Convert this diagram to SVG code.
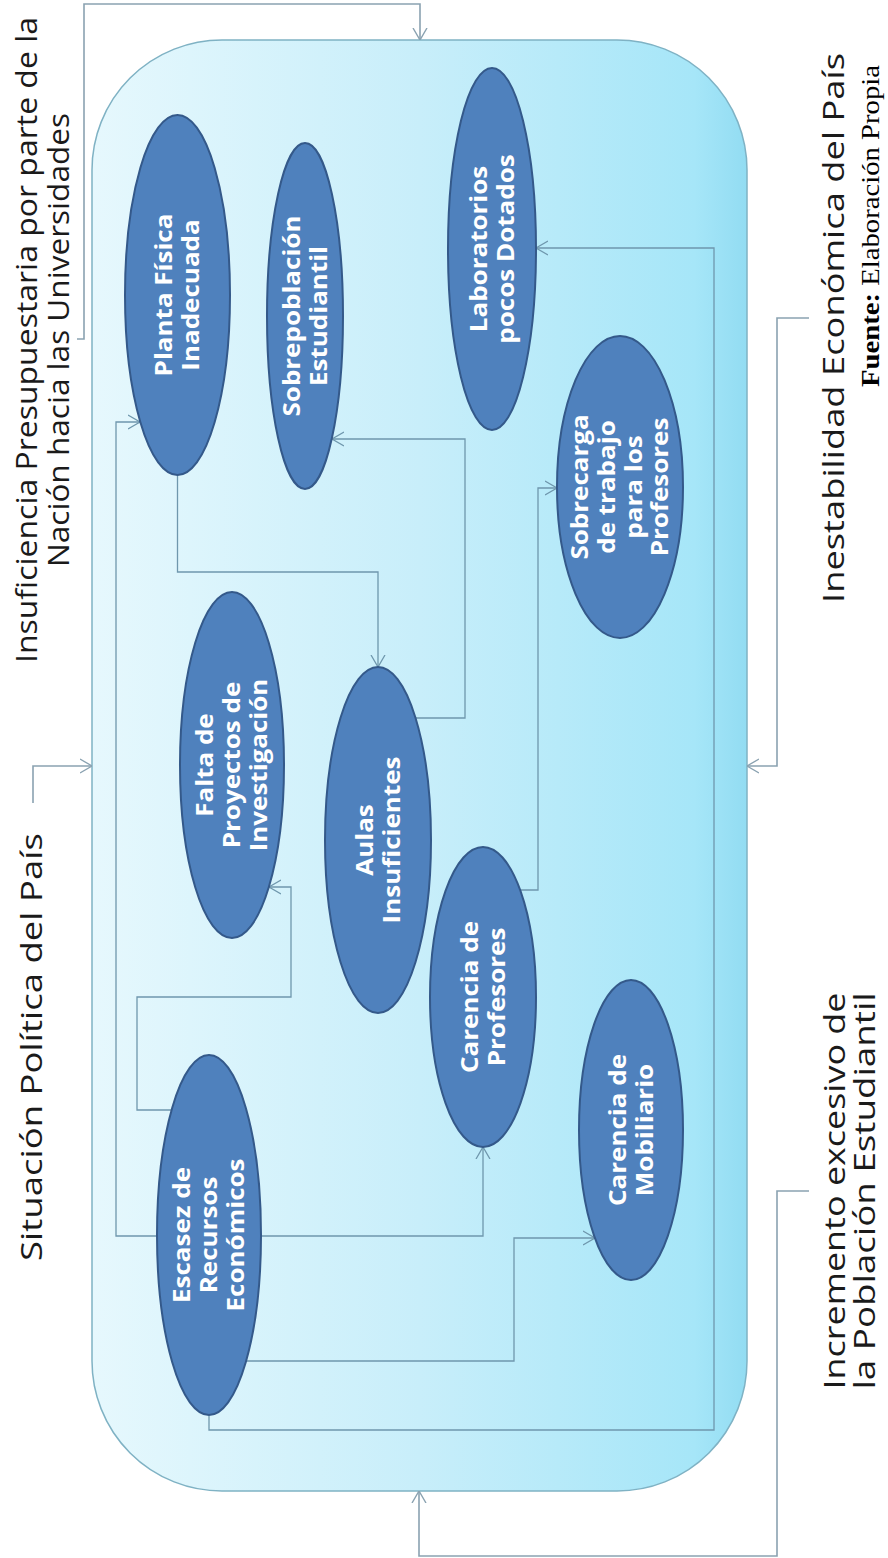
<svg xmlns="http://www.w3.org/2000/svg" width="888" height="1558" viewBox="0 0 888 1558">
<defs>
  <linearGradient id="bg" x1="0" y1="0" x2="1" y2="0">
    <stop offset="0" stop-color="#e6f8fd"/>
    <stop offset="0.5" stop-color="#c8eefa"/>
    <stop offset="0.92" stop-color="#a6e6f8"/>
    <stop offset="1" stop-color="#92dcf2"/>
  </linearGradient>
  <marker id="arr" viewBox="0 0 12 16" refX="12" refY="8" markerWidth="12" markerHeight="16" markerUnits="userSpaceOnUse" orient="auto">
    <path d="M0,1 L12,8 L0,15" fill="none" stroke="#6f97ad" stroke-width="1.3"/>
  </marker>
  <marker id="arr2" viewBox="0 0 12 16" refX="12" refY="8" markerWidth="12" markerHeight="16" markerUnits="userSpaceOnUse" orient="auto">
    <path d="M0,1 L12,8 L0,15" fill="none" stroke="#8aa2b1" stroke-width="1.4"/>
  </marker>
  <style>
    .lbl{font-family:"Open Sans","DejaVu Sans",sans-serif;font-size:30px;fill:#1a1a1a;text-anchor:middle}
    .in{font-family:"Open Sans","DejaVu Sans",sans-serif;font-size:23px;font-weight:bold;fill:#ffffff;text-anchor:middle}
    .node{fill:#4f81bd;stroke:#34598a;stroke-width:2}
    .con{fill:none;stroke:#6f97ad;stroke-width:1.3;marker-end:url(#arr)}
    .brk{fill:none;stroke:#8aa2b1;stroke-width:1.6;marker-end:url(#arr2)}
  </style>
</defs>

<g id="container">
  <rect x="92" y="40" width="655" height="1451" rx="130" ry="130" fill="url(#bg)" stroke="#7fb2c4" stroke-width="1.5"/>
</g>

<g id="labels">
  <g id="lbl-insuficiencia">
    <text class="lbl" font-size="29" transform="translate(37,340) rotate(-90)" textLength="646" lengthAdjust="spacingAndGlyphs">Insuficiencia  Presupuestaria  por parte de la</text>
    <text class="lbl" font-size="29" transform="translate(69,340) rotate(-90)" textLength="454" lengthAdjust="spacingAndGlyphs">Nación hacia las Universidades</text>
  </g>
  <g id="lbl-situacion">
    <text class="lbl" transform="translate(42,1047) rotate(-90)" textLength="428" lengthAdjust="spacingAndGlyphs">Situación Política del País</text>
  </g>
  <g id="lbl-inestabilidad">
    <text class="lbl" transform="translate(844,328) rotate(-90)" textLength="550" lengthAdjust="spacingAndGlyphs">Inestabilidad Económica del País</text>
  </g>
  <g id="lbl-incremento">
    <text class="lbl" transform="translate(845,1191) rotate(-90)" textLength="397" lengthAdjust="spacingAndGlyphs">Incremento excesivo de</text>
    <text class="lbl" transform="translate(875,1191) rotate(-90)" textLength="397" lengthAdjust="spacingAndGlyphs">la Población Estudiantil</text>
  </g>
  <g id="lbl-fuente">
    <text font-family="'Liberation Serif','Times New Roman',serif" font-size="26" fill="#000" text-anchor="middle" transform="translate(879,226) rotate(-90)" textLength="322" lengthAdjust="spacingAndGlyphs"><tspan font-weight="bold">Fuente:</tspan> Elaboración Propia</text>
  </g>
</g>

<g id="connectors">
  <path class="brk" d="M77,339 H84 V4 H420 V40"/>
  <path class="brk" d="M33,803 V766 H92"/>
  <path class="brk" d="M809,318 H777 V766 H747"/>
  <path class="brk" d="M809,1191 H777 V1556 H419 V1491"/>
  <path class="con" d="M209,1236 H116 V422 H140"/>
  <path class="con" d="M209,1236 H483 V1147"/>
  <path class="con" d="M230,1361 H514 V1238 H595"/>
  <path class="con" d="M209,1416 V1430 H714 V248 H536"/>
  <path class="con" d="M190,1110 H137 V997 H291 V887 H269"/>
  <path class="con" d="M177.5,475 V572 H378 V667"/>
  <path class="con" d="M400,718 H465 V439 H332"/>
  <path class="con" d="M510,890 H538 V488 H557"/>
</g>

<g id="n-planta">
  <ellipse class="node" cx="177.5" cy="295" rx="52.5" ry="180"/>
  <text class="in" transform="translate(177.5,295) rotate(-90) scale(1.13,1)"><tspan x="0" y="-5.5">Planta Física</tspan><tspan x="0" y="21.5">Inadecuada</tspan></text>
</g>
<g id="n-sobrepoblacion">
  <ellipse class="node" cx="305" cy="316" rx="38" ry="173"/>
  <text class="in" transform="translate(305,316) rotate(-90) scale(1.13,1)"><tspan x="0" y="-5.5">Sobrepoblación</tspan><tspan x="0" y="21.5">Estudiantil</tspan></text>
</g>
<g id="n-laboratorios">
  <ellipse class="node" cx="492" cy="249" rx="44" ry="181"/>
  <text class="in" transform="translate(492,249) rotate(-90) scale(1.13,1)"><tspan x="0" y="-5.5">Laboratorios</tspan><tspan x="0" y="21.5">pocos Dotados</tspan></text>
</g>
<g id="n-sobrecarga">
  <ellipse class="node" cx="620" cy="487" rx="63" ry="151"/>
  <text class="in" transform="translate(620,487) rotate(-90) scale(1.13,1)"><tspan x="0" y="-32.5">Sobrecarga</tspan><tspan x="0" y="-5.5">de trabajo</tspan><tspan x="0" y="21.5">para los</tspan><tspan x="0" y="48.5">Profesores</tspan></text>
</g>
<g id="n-falta">
  <ellipse class="node" cx="232" cy="765" rx="52" ry="173"/>
  <text class="in" transform="translate(232,765) rotate(-90) scale(1.13,1)"><tspan x="0" y="-19">Falta de</tspan><tspan x="0" y="8">Proyectos de</tspan><tspan x="0" y="35">Investigación</tspan></text>
</g>
<g id="n-aulas">
  <ellipse class="node" cx="378" cy="840" rx="53" ry="173"/>
  <text class="in" transform="translate(378,840) rotate(-90) scale(1.13,1)"><tspan x="0" y="-5.5">Aulas</tspan><tspan x="0" y="21.5">Insuficientes</tspan></text>
</g>
<g id="n-carencia-profesores">
  <ellipse class="node" cx="483" cy="997" rx="53" ry="150"/>
  <text class="in" transform="translate(483,997) rotate(-90) scale(1.13,1)"><tspan x="0" y="-5.5">Carencia de</tspan><tspan x="0" y="21.5">Profesores</tspan></text>
</g>
<g id="n-carencia-mobiliario">
  <ellipse class="node" cx="631" cy="1130" rx="52" ry="150"/>
  <text class="in" transform="translate(631,1130) rotate(-90) scale(1.13,1)"><tspan x="0" y="-5.5">Carencia de</tspan><tspan x="0" y="21.5">Mobiliario</tspan></text>
</g>
<g id="n-escasez">
  <ellipse class="node" cx="209" cy="1235" rx="52" ry="180"/>
  <text class="in" transform="translate(209,1235) rotate(-90) scale(1.13,1)"><tspan x="0" y="-19">Escasez de</tspan><tspan x="0" y="8">Recursos</tspan><tspan x="0" y="35">Económicos</tspan></text>
</g>
</svg>
